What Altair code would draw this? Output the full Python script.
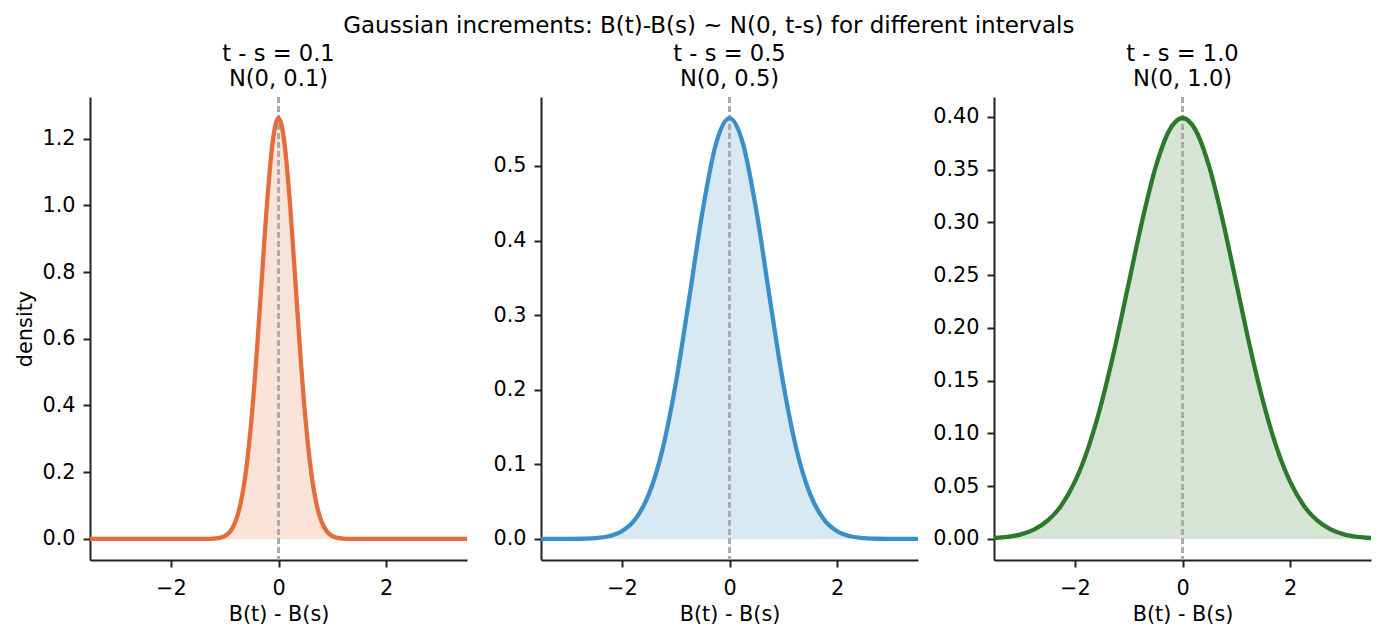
import altair as alt
import pandas as pd

FONT = "DejaVu Sans"
FS_AX = 20.8
FS_T = 22.6
FS_SUP = 23

# ---- data ----
x1 = [-3.5, -2.0, -1.5, -1.3, -1.2, -1.1, -1.0, -0.9, -0.8, -0.7, -0.6, -0.5, -0.4, -0.3, -0.2, -0.1,
      0.0, 0.1, 0.2, 0.3, 0.4, 0.5, 0.6, 0.7, 0.8, 0.9, 1.0, 1.1, 1.2, 1.3, 1.5, 2.0, 3.5]
d1 = [0.0, 0.0, 0.0, 0.0003, 0.0009, 0.0030, 0.0085, 0.0220, 0.0514, 0.1089, 0.2085, 0.3614, 0.5669,
      0.8044, 1.0329, 1.2000, 1.2616, 1.2000, 1.0329, 0.8044, 0.5669, 0.3614, 0.2085, 0.1089, 0.0514,
      0.0220, 0.0085, 0.0030, 0.0009, 0.0003, 0.0, 0.0, 0.0]

x23 = [-3.5, -3.25, -3.0, -2.75, -2.5, -2.25, -2.0, -1.75, -1.5, -1.25, -1.0, -0.75, -0.5, -0.25,
       0.0, 0.25, 0.5, 0.75, 1.0, 1.25, 1.5, 1.75, 2.0, 2.25, 2.5, 2.75, 3.0, 3.25, 3.5]
d2 = [0.0, 0.0, 0.0001, 0.0003, 0.0011, 0.0036, 0.0103, 0.0264, 0.0595, 0.1183, 0.2076, 0.3215,
      0.4394, 0.5300, 0.5642, 0.5300, 0.4394, 0.3215, 0.2076, 0.1183, 0.0595, 0.0264, 0.0103,
      0.0036, 0.0011, 0.0003, 0.0001, 0.0, 0.0]
d3 = [0.0009, 0.0020, 0.0044, 0.0091, 0.0175, 0.0317, 0.0540, 0.0863, 0.1295, 0.1826, 0.2420,
      0.3011, 0.3521, 0.3867, 0.3989, 0.3867, 0.3521, 0.3011, 0.2420, 0.1826, 0.1295, 0.0863,
      0.0540, 0.0317, 0.0175, 0.0091, 0.0044, 0.0020, 0.0009]

titles = [["t - s = 0.1", "N(0, 0.1)"], ["t - s = 0.5", "N(0, 0.5)"], ["t - s = 1.0", "N(0, 1.0)"]]
colors = ["#E36D3B", "#3B8FC8", "#2B7A2B"]
y_domains = [[-0.0631, 1.3247], [-0.0282, 0.5924], [-0.01995, 0.4188]]
y_ticks = [[0.0, 0.2, 0.4, 0.6, 0.8, 1.0, 1.2],
           [0.0, 0.1, 0.2, 0.3, 0.4, 0.5],
           [0.0, 0.05, 0.10, 0.15, 0.20, 0.25, 0.30, 0.35, 0.40]]
y_formats = [".1f", ".1f", ".2f"]
x_ticks = [-2, 0, 2]
y_extent = [48, 60, 62]


def panel(xs, ds, title, color, ydom, yt, yfmt, ytitle, ext):
    df = pd.DataFrame({"x": xs, "d": ds})
    xenc = alt.X("x:Q", scale=alt.Scale(domain=[-3.5, 3.5], nice=False, zero=False),
                 axis=alt.Axis(values=x_ticks, format="d", title="B(t) - B(s)"))
    yenc = alt.Y("d:Q", scale=alt.Scale(domain=ydom, nice=False, zero=False),
                 axis=alt.Axis(values=yt, format=yfmt, title=ytitle,
                               minExtent=ext, maxExtent=ext))
    base = alt.Chart(df)
    area = base.mark_area(color=color, opacity=0.2, interpolate="monotone").encode(
        x=xenc, y=yenc, y2=alt.datum(0))
    rule = base.mark_rule(color="#ababab", strokeWidth=1.4, strokeDash=[6, 3]).encode(
        x=alt.datum(0))
    line = base.mark_line(color=color, strokeWidth=4.3, interpolate="monotone").encode(
        x=xenc, y=yenc)
    return alt.layer(area, rule, line).properties(
        width=377, height=463,
        title=alt.TitleParams(title, fontSize=FS_T, font=FONT, fontWeight="normal",
                              color="#000", lineHeight=25, offset=6))


p1 = panel(x1, d1, titles[0], colors[0], y_domains[0], y_ticks[0], y_formats[0], "density", y_extent[0])
p2 = panel(x23, d2, titles[1], colors[1], y_domains[1], y_ticks[1], y_formats[1], None, y_extent[1])
p3 = panel(x23, d3, titles[2], colors[2], y_domains[2], y_ticks[2], y_formats[2], None, y_extent[2])

chart = alt.hconcat(p1, p2, p3, spacing=5).properties(
    title=alt.TitleParams("Gaussian increments: B(t)-B(s) ~ N(0, t-s) for different intervals",
                          fontSize=FS_SUP, font=FONT, fontWeight="normal", color="#000",
                          anchor="middle", offset=5, dx=12),
    padding={"left": 14, "top": 14, "right": 0, "bottom": 2},
).configure_view(stroke=None).configure_axis(
    grid=False, domainColor="#222", domainWidth=2, tickColor="#222", tickWidth=2, tickSize=7,
    labelFont=FONT, labelFontSize=FS_AX, labelColor="#000", labelPadding=8,
    titleFont=FONT, titleFontSize=FS_AX, titleColor="#000", titleFontWeight="normal",
    titlePadding=7,
).configure_axisX(titlePadding=7, labelPadding=11)

chart.save("out.html", embed_options={"renderer": "svg", "actions": False})
